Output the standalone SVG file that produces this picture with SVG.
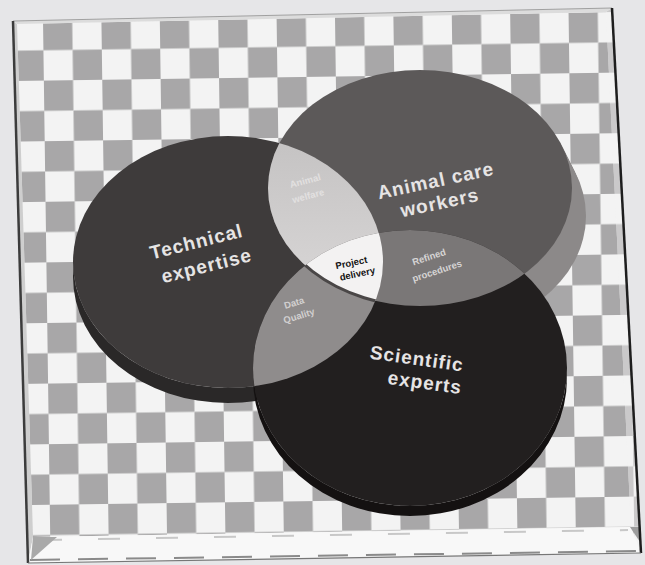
<svg xmlns="http://www.w3.org/2000/svg" width="645" height="565" viewBox="0 0 645 565">
  <style>
    .big { font-family: "Liberation Sans", Arial, sans-serif; font-weight: bold; font-size: 19px; fill: #e6e4e4; letter-spacing: 1px; text-anchor: middle; }
    .small { font-family: "Liberation Sans", Arial, sans-serif; font-weight: bold; font-size: 9.5px; text-anchor: middle; }
  </style>
  <defs>
    <pattern id="checker" x="43" y="20" width="58.4" height="60.6" patternUnits="userSpaceOnUse" patternTransform="rotate(-0.8 43 20)">
      <rect width="58.4" height="60.6" fill="#f3f3f3"/>
      <rect width="29.2" height="30.3" fill="#a8a7a8"/>
      <rect x="29.2" y="30.3" width="29.2" height="30.3" fill="#a8a7a8"/>
    </pattern>
    <linearGradient id="abGrad" x1="0" y1="0" x2="0" y2="1">
      <stop offset="0" stop-color="#bcbaba"/>
      <stop offset="1" stop-color="#dad8d8"/>
    </linearGradient>
    <clipPath id="clipA"><ellipse cx="228" cy="262" rx="155" ry="126"/></clipPath>
    <clipPath id="clipB"><ellipse cx="420" cy="188" rx="152" ry="118"/></clipPath>
    <clipPath id="clipC"><ellipse cx="410" cy="368" rx="157" ry="138"/></clipPath>
    <ellipse id="shapeB" cx="420" cy="188" rx="152" ry="118"/>
  </defs>

  <!-- page and frame -->
  <g id="frame">
    <rect width="645" height="565" fill="#e6e6e8"/>
    <polygon points="13,21 612,8 641,553 28,563" fill="#f4f4f4"/>
    <polygon points="17,24 606,12 631,527 33,537" fill="url(#checker)"/>
    <polygon points="606,12 612,8 641,553 631,527" fill="url(#checker)"/>
    <polygon points="606,12 612,8 641,553 631,527" fill="#f4f4f4" opacity="0.45"/>
    <polygon points="13,21 17,24 33,537 28,563" fill="#c4c4c4" opacity="0.8"/>
    <polygon points="13,21 612,8 606,12 17,24" fill="#dcdcdc"/>
    <polygon points="33,537 631,527 641,553 28,563" fill="#f8f8f8"/>
    <line x1="40" y1="540" x2="628" y2="530" stroke="#c8c8c8" stroke-width="2" stroke-dasharray="22 36"/>
    <line x1="30" y1="560" x2="640" y2="551" stroke="#8a8a8a" stroke-width="2" stroke-dasharray="30 18"/>
    <polygon points="33,537 57,537 31,560" fill="#a9a9a9"/>
    <polygon points="630,527 640,527 640,542" fill="#9d9d9d"/>
    <line x1="13" y1="21" x2="612" y2="8" stroke="#a0a0a0" stroke-width="1"/>
    <line x1="13" y1="21" x2="28" y2="563" stroke="#3c3c3c" stroke-width="2.5"/>
    <line x1="612" y1="8" x2="641" y2="553" stroke="#1e1e1e" stroke-width="2.5"/>
    <line x1="28" y1="563" x2="641" y2="553" stroke="#777" stroke-width="1.2"/>
  </g>

  <!-- disk sides -->
  <g id="sides">
    <g fill="#8c8989">
      <use href="#shapeB" transform="translate(2.5,5)"/>
      <use href="#shapeB" transform="translate(5,10)"/>
      <use href="#shapeB" transform="translate(7.5,15)"/>
      <use href="#shapeB" transform="translate(10,20)"/>
      <use href="#shapeB" transform="translate(12,24)"/>
      <use href="#shapeB" transform="translate(14,28)"/>
    </g>
    <path d="M73,262 L73,277 A155,126 0 0 0 383,277 L383,262 A155,126 0 0 1 73,262 Z" fill="#2a2828"/>
    <path d="M253,368 L253,378 A157,138 0 0 0 567,378 L567,368 A157,138 0 0 1 253,368 Z" fill="#141111"/>
  </g>

  <g id="node-tech">
    <ellipse cx="228" cy="262" rx="155" ry="126" fill="#3e3b3b"/>
  </g>
  <g id="node-animal">
    <ellipse cx="420" cy="188" rx="152" ry="118" fill="#5c5959"/>
  </g>
  <g id="node-scientific">
    <ellipse cx="410" cy="368" rx="157" ry="138" fill="#221f1f"/>
  </g>

  <!-- intersections -->
  <g id="node-tech-animal">
    <ellipse cx="420" cy="188" rx="152" ry="118" fill="url(#abGrad)" clip-path="url(#clipA)"/>
  </g>
  <g id="node-data-quality">
    <ellipse cx="410" cy="368" rx="157" ry="138" fill="#8f8c8c" clip-path="url(#clipA)"/>
  </g>
  <g id="node-refined">
    <ellipse cx="410" cy="368" rx="157" ry="138" fill="#7a7777" clip-path="url(#clipB)"/>
  </g>
  <g id="node-project-delivery">
    <g clip-path="url(#clipA)">
      <ellipse cx="410" cy="368" rx="157" ry="138" fill="#f3f2f2" clip-path="url(#clipB)"/>
    </g>
    <g clip-path="url(#clipA)">
      <ellipse cx="420" cy="188" rx="152" ry="118" fill="none" stroke="#4a4747" stroke-width="3" clip-path="url(#clipC)"/>
    </g>
  </g>

  <!-- labels -->
  <g id="labels">
    <text class="big" transform="translate(198,248) rotate(-14)">Technical</text>
    <text class="big" transform="translate(208,272) rotate(-14)">expertise</text>
    <text class="big" transform="translate(437,187) rotate(-12)">Animal care</text>
    <text class="big" transform="translate(441,209) rotate(-12)">workers</text>
    <text class="big" transform="translate(416,365) rotate(8)">Scientific</text>
    <text class="big" transform="translate(424,389) rotate(8)">experts</text>
    <text class="small" fill="#e2e0e0" transform="translate(306,184) rotate(-15)">Animal</text>
    <text class="small" fill="#e2e0e0" transform="translate(309,199) rotate(-15)">welfare</text>
    <text class="small" fill="#141212" transform="translate(352,266) rotate(-12)">Project</text>
    <text class="small" fill="#141212" transform="translate(358,277) rotate(-12)">delivery</text>
    <text class="small" fill="#d6d4d4" transform="translate(430,260) rotate(-18)">Refined</text>
    <text class="small" fill="#d6d4d4" transform="translate(438,274) rotate(-18)">procedures</text>
    <text class="small" fill="#d2d0d0" transform="translate(295,306) rotate(-17)">Data</text>
    <text class="small" fill="#d2d0d0" transform="translate(300,319) rotate(-17)">Quality</text>
  </g>
</svg>
